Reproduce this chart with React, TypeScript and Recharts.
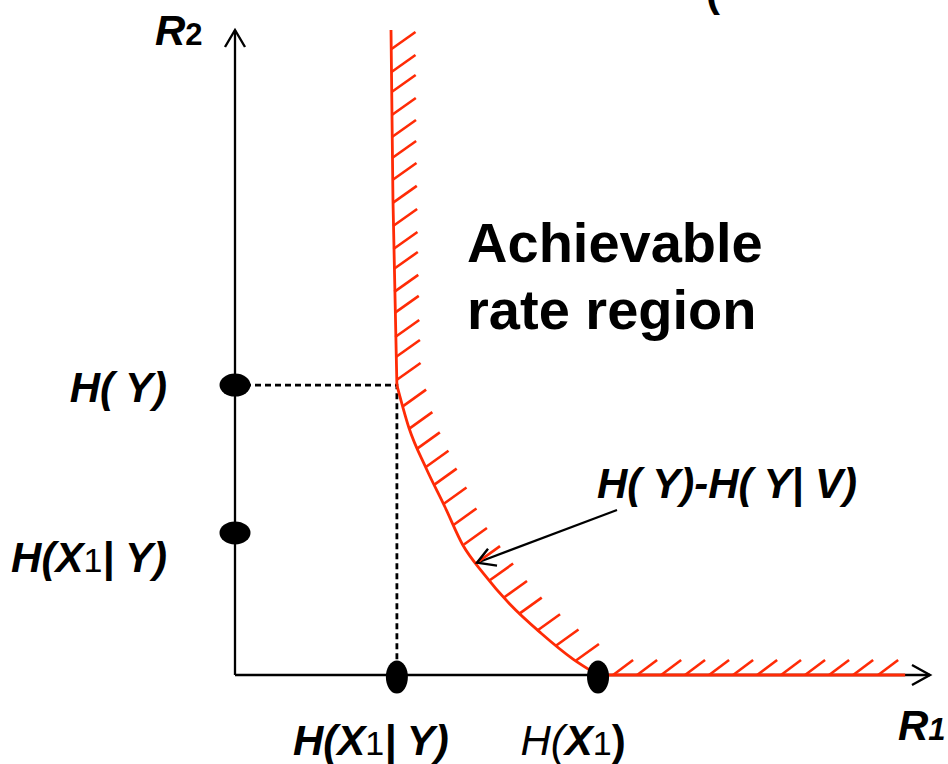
import React from 'react';
import { ComposedChart, XAxis, YAxis, Line, Scatter, ReferenceDot } from 'recharts';

const RED = '#ff2b06';
const FONT = '"Liberation Sans", Arial, Helvetica, sans-serif';

// Rate-axis extents and the entropy marks on them
const r1Max = 4.25;
const r2Max = 4.45;
const hX1givenY = 0.99;
const hX1 = 2.22;
const hY = 2.0;
const hX1givenYonR2 = 0.98;

const r1Ticks = [hX1givenY, hX1];
const r2Ticks = [hX1givenYonR2, hY];

// Coordinate axes
const r1Axis = [{ x: 0, y: 0 }, { x: r1Max, y: 0 }];
const r2Axis = [{ x: 0, y: 0 }, { x: 0, y: r2Max }];

// Dashed guides from the corner point (H(X1|Y), H(Y))
const cornerGuide = [
  { x: 0, y: hY },
  { x: hX1givenY, y: hY },
  { x: hX1givenY, y: 0 },
];

// Boundary of the achievable rate region
const wallEdge = [
  { x: 0.954, y: 4.45 },
  { x: 0.966, y: 3.277 },
  { x: 0.99, y: 2.0 },
];
const bendEdge = [
  { x: 0.99, y: 2.0 },
  { x: 1.064, y: 1.704 },
  { x: 1.168, y: 1.428 },
  { x: 1.284, y: 1.159 },
  { x: 1.394, y: 0.895 },
  { x: 1.52, y: 0.7 },
  { x: 1.68, y: 0.49 },
  { x: 1.87, y: 0.29 },
  { x: 2.067, y: 0.11 },
  { x: 2.22, y: 0 },
];
const floorEdge = [{ x: 2.22, y: 0 }, { x: 4.098, y: 0 }];

// Hatch anchor points along the boundary
const wallHatch = [
  { x: 0.957, y: 4.319 },
  { x: 0.957, y: 4.16 },
  { x: 0.958, y: 4.022 },
  { x: 0.959, y: 3.864 },
  { x: 0.96, y: 3.712 },
  { x: 0.961, y: 3.567 },
  { x: 0.963, y: 3.415 },
  { x: 0.965, y: 3.257 },
  { x: 0.967, y: 3.098 },
  { x: 0.969, y: 2.939 },
  { x: 0.971, y: 2.801 },
  { x: 0.974, y: 2.643 },
  { x: 0.977, y: 2.498 },
  { x: 0.98, y: 2.332 },
  { x: 0.984, y: 2.194 },
  { x: 0.988, y: 2.035 },
];
const bendHatch = [
  { x: 1.028, y: 1.855 },
  { x: 1.066, y: 1.7 },
  { x: 1.112, y: 1.56 },
  { x: 1.165, y: 1.433 },
  { x: 1.215, y: 1.31 },
  { x: 1.275, y: 1.18 },
  { x: 1.336, y: 1.035 },
  { x: 1.4, y: 0.9 },
  { x: 1.48, y: 0.775 },
  { x: 1.56, y: 0.655 },
  { x: 1.645, y: 0.535 },
  { x: 1.735, y: 0.42 },
  { x: 1.847, y: 0.305 },
  { x: 1.96, y: 0.2 },
  { x: 2.085, y: 0.1 },
];
const floorHatch = [
  { x: 2.312, y: 0 },
  { x: 2.459, y: 0 },
  { x: 2.606, y: 0 },
  { x: 2.752, y: 0 },
  { x: 2.899, y: 0 },
  { x: 3.046, y: 0 },
  { x: 3.193, y: 0 },
  { x: 3.339, y: 0 },
  { x: 3.486, y: 0 },
  { x: 3.633, y: 0 },
  { x: 3.78, y: 0 },
  { x: 3.933, y: 0 },
];

// Marked rates on each axis
const r2Marks = [{ x: 0, y: hY }, { x: 0, y: hX1givenYonR2 }];
const r1Marks = [{ x: hX1givenY, y: 0 }, { x: hX1, y: 0 }];

// Pointer to the bend of the boundary
const pointerTail = { x: 2.336, y: 1.138 };
const pointerHead = { x: 1.48, y: 0.775 };
const pointerLine = [pointerHead, pointerTail];

// Region caption anchor
const captionAnchor = { x: 1.419, y: 2.849 };

const B = { fontWeight: 'bold', fontStyle: 'italic' } as const;
const SUB = 34;

function hatch(dx: number, dy: number) {
  return (p: any) => (
    <line x1={p.cx} y1={p.cy} x2={p.cx + dx} y2={p.cy + dy} stroke={RED} strokeWidth={2.6} />
  );
}

function r2Dot(p: any) {
  return <ellipse cx={p.cx} cy={p.cy} rx={15.5} ry={11.5} fill="#000" />;
}
function r1Dot(p: any) {
  return <ellipse cx={p.cx} cy={p.cy + 2} rx={11} ry={16.5} fill="#000" />;
}

function rightHead(p: any) {
  return (
    <polyline
      points={`${p.cx - 18},${p.cy - 10} ${p.cx},${p.cy} ${p.cx - 18},${p.cy + 10}`}
      fill="none"
      stroke="#000"
      strokeWidth={2.4}
    />
  );
}
function upHead(p: any) {
  return (
    <polyline
      points={`${p.cx - 10},${p.cy + 17} ${p.cx},${p.cy} ${p.cx + 10},${p.cy + 17}`}
      fill="none"
      stroke="#000"
      strokeWidth={2.4}
    />
  );
}

function R1Tick(props: any) {
  const { x, y, payload } = props;
  const base = y + 80;
  if (payload.value === hX1) {
    return (
      <text x={x - 25} y={base} textAnchor="middle" fontFamily={FONT} fontSize={42} fill="#000">
        <tspan fontStyle="italic">H(</tspan>
        <tspan {...B}>X</tspan>
        <tspan fontSize={SUB}>1</tspan>
        <tspan fontWeight="bold">)</tspan>
      </text>
    );
  }
  return (
    <text x={x - 26} y={base} textAnchor="middle" fontFamily={FONT} fontSize={42} fill="#000">
      <tspan {...B}>H(X</tspan>
      <tspan fontSize={SUB}>1</tspan>
      <tspan {...B}>| Y)</tspan>
    </text>
  );
}

function R2Tick(props: any) {
  const { x, y, payload } = props;
  if (payload.value === hY) {
    return (
      <text x={x - 68} y={y + 17} textAnchor="end" fontFamily={FONT} fontSize={42} fill="#000">
        <tspan {...B}>H( Y)</tspan>
      </text>
    );
  }
  return (
    <text x={x - 68} y={y + 39} textAnchor="end" fontFamily={FONT} fontSize={42} fill="#000">
      <tspan {...B}>H(X</tspan>
      <tspan fontSize={SUB}>1</tspan>
      <tspan {...B}>| Y)</tspan>
    </text>
  );
}

function r2Title(p: any) {
  return (
    <text x={p.cx - 80} y={p.cy + 15} fontFamily={FONT} fontSize={42} fill="#000">
      <tspan {...B}>R</tspan>
      <tspan fontSize={31} fontWeight="bold">2</tspan>
    </text>
  );
}
function r1Title(p: any) {
  return (
    <text x={p.cx - 32} y={p.cy + 65} fontFamily={FONT} fontSize={42} fill="#000">
      <tspan {...B}>R</tspan>
      <tspan fontSize={31} {...B}>1</tspan>
    </text>
  );
}

function caption(p: any) {
  return (
    <text x={p.cx} y={p.cy} fontFamily={FONT} fontSize={56} fontWeight="bold" fill="#000">
      <tspan x={p.cx}>Achievable</tspan>
      <tspan x={p.cx} dy={67}>rate region</tspan>
    </text>
  );
}

function pointerLabel(p: any) {
  return (
    <text x={p.cx - 20} y={p.cy - 12} fontFamily={FONT} fontSize={42} fill="#000" {...B}>
      H( Y)-H( Y| V)
    </text>
  );
}
function pointerHeadShape(p: any) {
  return (
    <polyline
      points={`${p.cx + 11},${p.cy - 14} ${p.cx},${p.cy} ${p.cx + 20},${p.cy + 3}`}
      fill="none"
      stroke="#000"
      strokeWidth={2.4}
    />
  );
}

export default function App() {
  return (
    <div style={{ position: 'absolute', left: 0, top: 0, width: 948, height: 764, background: '#fff' }}>
      <ComposedChart width={948} height={764} margin={{ top: 30, right: 18, left: 35, bottom: 9 }}>
        <XAxis
          type="number"
          dataKey="x"
          domain={[0, r1Max]}
          ticks={r1Ticks}
          interval={0}
          axisLine={false}
          tickLine={false}
          tickSize={0}
          tickMargin={0}
          height={80}
          tick={<R1Tick />}
        />
        <YAxis
          type="number"
          dataKey="y"
          domain={[0, r2Max]}
          ticks={r2Ticks}
          interval={0}
          axisLine={false}
          tickLine={false}
          tickSize={0}
          tickMargin={0}
          width={200}
          tick={<R2Tick />}
        />

        <Line data={r1Axis} dataKey="y" stroke="#000" strokeWidth={2.3} dot={false} activeDot={false} isAnimationActive={false} />
        <Line data={r2Axis} dataKey="y" stroke="#000" strokeWidth={2.3} dot={false} activeDot={false} isAnimationActive={false} />
        <Scatter data={[r1Axis[1]]} shape={rightHead} isAnimationActive={false} />
        <Scatter data={[r2Axis[1]]} shape={upHead} isAnimationActive={false} />

        <Line data={cornerGuide} dataKey="y" stroke="#000" strokeWidth={2.8} strokeDasharray="6 4" dot={false} activeDot={false} isAnimationActive={false} />

        <Line data={wallEdge} dataKey="y" stroke={RED} strokeWidth={2.8} dot={false} activeDot={false} isAnimationActive={false} />
        <Line data={bendEdge} dataKey="y" type="monotone" stroke={RED} strokeWidth={2.8} dot={false} activeDot={false} isAnimationActive={false} />
        <Line data={floorEdge} dataKey="y" stroke={RED} strokeWidth={2.8} dot={false} activeDot={false} isAnimationActive={false} />

        <Scatter data={wallHatch} shape={hatch(24, -17)} isAnimationActive={false} />
        <Scatter data={bendHatch} shape={hatch(23, -16.5)} isAnimationActive={false} />
        <Scatter data={floorHatch} shape={hatch(20, -15)} isAnimationActive={false} />

        <Scatter data={r2Marks} shape={r2Dot} isAnimationActive={false} />
        <Scatter data={r1Marks} shape={r1Dot} isAnimationActive={false} />

        <Line data={pointerLine} dataKey="y" stroke="#000" strokeWidth={2.2} dot={false} activeDot={false} isAnimationActive={false} />
        <Scatter data={[pointerHead]} shape={pointerHeadShape} isAnimationActive={false} />

        <ReferenceDot x={0} y={r2Max} r={0} shape={r2Title} />
        <ReferenceDot x={r1Max} y={0} r={0} shape={r1Title} />
        <ReferenceDot x={captionAnchor.x} y={captionAnchor.y} r={0} shape={caption} />
        <ReferenceDot x={pointerTail.x} y={pointerTail.y} r={0} shape={pointerLabel} />
      </ComposedChart>
      <svg width={948} height={40} style={{ position: 'absolute', left: 0, top: 0 }}>
        <text x={706} y={6} fontFamily={FONT} fontSize={42} fontWeight="bold" fill="#000">(</text>
      </svg>
    </div>
  );
}
